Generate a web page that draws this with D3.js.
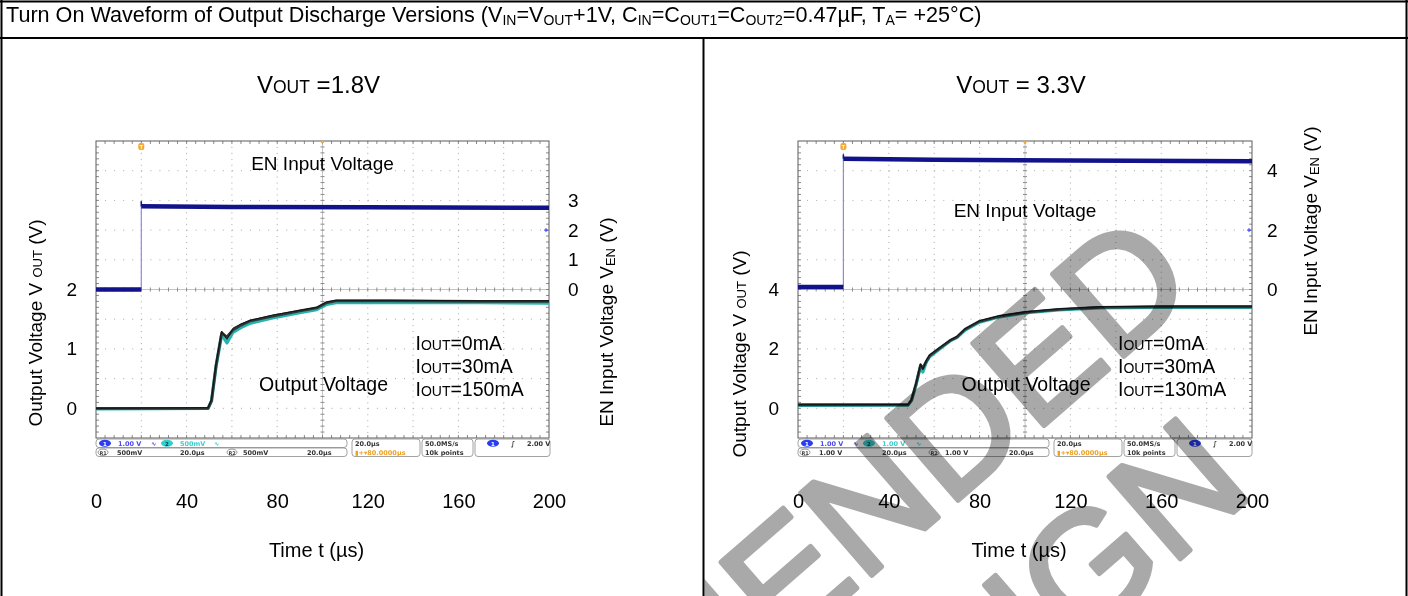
<!DOCTYPE html>
<html>
<head>
<meta charset="utf-8">
<script src="https://cdn.jsdelivr.net/npm/d3@7"></script>
<style>
  body { margin: 0; background: #fff; }
  svg { display: block; font-family: "Liberation Sans", Arial, sans-serif; }
</style>
</head>
<body>
<svg id="chart" width="1408" height="596"></svg>
<script>
// ---- data (time in µs, volts) ----
const timeTicks = [0, 40, 80, 120, 160, 200];

// VOUT = 1.8V
const leftVoutTicks = [0, 1, 2];
const leftEnTicks = [0, 1, 2, 3];
const leftOutT   = [0, 49.5, 51, 53, 55.5, 57.8, 60.5, 64, 68, 78, 90, 97.4, 101.9, 106, 130, 170, 200];
const leftOut0   = [0.00, 0.01, 0.15, 0.75, 1.30, 1.16, 1.35, 1.42, 1.48, 1.57, 1.65, 1.70, 1.79, 1.82, 1.82, 1.81, 1.81];
const leftOut30  = [-0.01, 0.00, 0.12, 0.70, 1.24, 1.10, 1.28, 1.36, 1.43, 1.52, 1.61, 1.66, 1.75, 1.78, 1.78, 1.78, 1.77];
const leftOut150 = [0.00, 0.00, 0.13, 0.72, 1.27, 1.20, 1.32, 1.40, 1.47, 1.55, 1.64, 1.69, 1.78, 1.81, 1.81, 1.80, 1.80];
const leftEnLow  = [[0, 0.0], [20, 0.0]];
const leftEnHigh = [[20, 2.80], [60, 2.78], [120, 2.77], [200, 2.75]];
const leftEnPeak = 2.97;
const leftLoads  = ["0mA", "30mA", "150mA"];
const leftScales = ["1.00 V", "500mV", "500mV", "500mV"];

// VOUT = 3.3V
const rightVoutTicks = [0, 2, 4];
const rightEnTicks = [0, 2, 4];
const rightOutT   = [0, 48.5, 50, 52, 54, 55, 56.5, 58, 63, 67, 70, 73.6, 80, 89, 100, 115, 133, 160, 200];
const rightOut0   = [0.12, 0.13, 0.30, 0.85, 1.50, 1.30, 1.62, 1.80, 2.08, 2.30, 2.42, 2.68, 2.95, 3.12, 3.25, 3.35, 3.42, 3.44, 3.44];
const rightOut30  = [0.10, 0.11, 0.26, 0.78, 1.42, 1.22, 1.55, 1.74, 2.03, 2.27, 2.38, 2.63, 2.90, 3.08, 3.21, 3.31, 3.38, 3.40, 3.40];
const rightOut130 = [0.12, 0.12, 0.28, 0.82, 1.46, 1.35, 1.58, 1.77, 2.06, 2.28, 2.40, 2.66, 2.93, 3.10, 3.23, 3.33, 3.40, 3.42, 3.42];
const rightEnLow  = [[0, 0.08], [20, 0.08]];
const rightEnHigh = [[20, 4.40], [60, 4.37], [120, 4.34], [200, 4.32]];
const rightEnPeak = 4.55;
const rightLoads  = ["0mA", "30mA", "130mA"];
const rightScales = ["1.00 V", "1.00 V", "1.00 V", "1.00 V"];

const W = 1408, H = 596;
const svg = d3.select("#chart");
svg.append("rect").attr("width", W).attr("height", H).attr("fill", "#fff");

// text with small "subscript" parts: parts = [[text, sub]]
function rich(sel, parts, subSize, subDy) {
  let shifted = 0;
  parts.forEach(([s, sub]) => {
    const t = sel.append("tspan").text(s);
    if (sub) {
      t.attr("font-size", subSize).attr("dy", subDy - shifted);
      shifted = subDy;
    } else if (shifted) {
      t.attr("dy", -shifted);
      shifted = 0;
    }
  });
  return sel;
}

// table borders
const border = svg.append("g").attr("stroke", "#000").attr("stroke-width", 2);
border.append("line").attr("x1", 0).attr("x2", W).attr("y1", 1.5).attr("y2", 1.5);
border.append("line").attr("x1", 1.5).attr("x2", 1.5).attr("y1", 0).attr("y2", H);
border.append("line").attr("x1", W - 1.5).attr("x2", W - 1.5).attr("y1", 0).attr("y2", H);
border.append("line").attr("x1", 0).attr("x2", W).attr("y1", 38).attr("y2", 38);
border.append("line").attr("x1", 703.5).attr("x2", 703.5).attr("y1", 38).attr("y2", H);

rich(svg.append("text").attr("x", 6).attr("y", 22).attr("font-size", 21.6),
  [["Turn On  Waveform of Output Discharge Versions (V", 0], ["IN", 1], ["=V", 0], ["OUT", 1],
   ["+1V, C", 0], ["IN", 1], ["=C", 0], ["OUT1", 1], ["=C", 0], ["OUT2", 1],
   ["=0.47µF, T", 0], ["A", 1], ["= +25°C)", 0]], 14, 2.5);

const panels = [
  { left: 96, right: 549, title: " =1.8V", voutDomain: [-0.5, 4.5], voutTicks: leftVoutTicks,
    enTicks: leftEnTicks, enPad: 19, t: leftOutT, outs: [leftOut30, leftOut150, leftOut0],
    enLow: leftEnLow, enHigh: leftEnHigh, enPeak: leftEnPeak, loads: leftLoads, scales: leftScales,
    enLabelY: 170, voutTitleY: 323, enTitleY: 322, voutTitleX: 42, enTitleX: 613 },
  { left: 798, right: 1252, title: " = 3.3V", voutDomain: [-1, 9], voutTicks: rightVoutTicks,
    enTicks: rightEnTicks, enPad: 15, t: rightOutT, outs: [rightOut30, rightOut130, rightOut0],
    enLow: rightEnLow, enHigh: rightEnHigh, enPeak: rightEnPeak, loads: rightLoads, scales: rightScales,
    enLabelY: 217, voutTitleY: 354, enTitleY: 231, voutTitleX: 746, enTitleX: 1317 }
];

const plotTop = 141, plotBottom = 438;

panels.forEach(p => {
  const g = svg.append("g");
  const x = d3.scaleLinear().domain([0, 200]).range([p.left, p.right]);
  const yV = d3.scaleLinear().domain(p.voutDomain).range([plotBottom, plotTop]);
  const yE = d3.scaleLinear().domain([-5, 5]).range([plotBottom, plotTop]);
  const cx = (p.left + p.right) / 2, cy = (plotTop + plotBottom) / 2;
  const dx = (p.right - p.left) / 10, dy = (plotBottom - plotTop) / 10;

  rich(g.append("text").attr("x", cx - 4).attr("y", 93).attr("font-size", 24).attr("text-anchor", "middle"),
    [["V", 0], ["OUT", 1], [p.title, 0]], 17.5, 0);

  // scope screen
  const scr = g.append("g");
  scr.append("rect").attr("x", p.left).attr("y", plotTop).attr("width", p.right - p.left)
    .attr("height", plotBottom - plotTop).attr("fill", "#fff");
  for (let i = 1; i < 10; i++) {
    if (i === 5) continue;
    scr.append("line").attr("x1", p.left + i * dx).attr("x2", p.left + i * dx)
      .attr("y1", plotTop).attr("y2", plotBottom)
      .attr("stroke", "#a8a8a8").attr("stroke-dasharray", `1 ${dy / 5 - 1}`);
    scr.append("line").attr("y1", plotTop + i * dy).attr("y2", plotTop + i * dy)
      .attr("x1", p.left).attr("x2", p.right)
      .attr("stroke", "#a8a8a8").attr("stroke-dasharray", `1 ${dx / 5 - 1}`);
  }
  scr.append("line").attr("x1", cx).attr("x2", cx).attr("y1", plotTop).attr("y2", plotBottom).attr("stroke", "#c4c4c4");
  scr.append("line").attr("y1", cy).attr("y2", cy).attr("x1", p.left).attr("x2", p.right).attr("stroke", "#c4c4c4");
  const ticks = scr.append("g").attr("stroke", "#8a8a8a");
  for (let k = 1; k < 50; k++) {
    const xx = p.left + k * dx / 5, yy = plotTop + k * dy / 5;
    ticks.append("line").attr("x1", xx).attr("x2", xx).attr("y1", cy - 2).attr("y2", cy + 2);
    ticks.append("line").attr("y1", yy).attr("y2", yy).attr("x1", cx - 2).attr("x2", cx + 2);
    ticks.append("line").attr("x1", xx).attr("x2", xx).attr("y1", plotTop).attr("y2", plotTop + 3);
    ticks.append("line").attr("x1", xx).attr("x2", xx).attr("y1", plotBottom - 3).attr("y2", plotBottom);
    ticks.append("line").attr("y1", yy).attr("y2", yy).attr("x1", p.left).attr("x2", p.left + 3);
    ticks.append("line").attr("y1", yy).attr("y2", yy).attr("x1", p.right - 3).attr("x2", p.right);
  }
  scr.append("rect").attr("x", p.left).attr("y", plotTop).attr("width", p.right - p.left)
    .attr("height", plotBottom - plotTop).attr("fill", "none").attr("stroke", "#5a5a5a");

  // EN trace
  const enLine = d3.line().x(d => x(d[0])).y(d => yE(d[1]));
  scr.append("path").attr("d", enLine([p.enLow[1], [p.enLow[1][0], p.enPeak]]))
    .attr("stroke", "#8c8ce6").attr("stroke-width", 1.2).attr("fill", "none");
  [p.enLow, p.enHigh].forEach(seg => {
    scr.append("path").attr("d", enLine(seg)).attr("fill", "none")
      .attr("stroke", "#12128a").attr("stroke-width", 4.5);
  });
  scr.append("path").attr("d", enLine([[p.enHigh[0][0], p.enPeak], p.enHigh[0]]))
    .attr("stroke", "#12128a").attr("stroke-width", 1.5).attr("fill", "none");

  // VOUT traces
  const vLine = d3.line().x((d, i) => x(p.t[i])).y(d => yV(d));
  const styles = [["#27b4ae", 3.2], ["#2e3838", 2.8], ["#111", 1]];
  p.outs.forEach((vals, k) => {
    scr.append("path").attr("d", vLine(vals)).attr("fill", "none")
      .attr("stroke", styles[k][0]).attr("stroke-width", styles[k][1]).attr("stroke-linejoin", "round");
  });

  // scope markers
  const tx = x(20);
  scr.append("rect").attr("x", tx - 3).attr("y", plotTop + 2).attr("width", 6).attr("height", 7)
    .attr("rx", 2).attr("fill", "#f0a830");
  scr.append("text").attr("x", tx).attr("y", plotTop + 8).attr("font-size", 6).attr("fill", "#fff")
    .attr("text-anchor", "middle").attr("font-weight", "bold").text("T");
  scr.append("path").attr("d", `M${x(100) - 3},${plotTop} L${x(100) + 3},${plotTop} L${x(100)},${plotTop + 3}Z`)
    .attr("fill", "#f0a830");
  scr.append("path").attr("d", `M${p.right - 5},${yE(2)} h4 M${p.right - 3},${yE(2) - 2} v4`)
    .attr("stroke", "#2a3cf0").attr("stroke-width", 1);

  // status bar
  const sb = g.append("g").attr("font-family", "DejaVu Sans, sans-serif").attr("font-size", 6.5)
    .attr("font-weight", "bold");
  const L = p.left;
  const box = (x0, y0, w, h) => sb.append("rect").attr("x", x0).attr("y", y0).attr("width", w)
    .attr("height", h).attr("rx", 3).attr("fill", "#fff").attr("stroke", "#8a8a8a").attr("stroke-width", 0.8);
  box(L, 439, 251, 8.5); box(L, 448, 251, 8.5);
  box(L + 256, 439, 68, 17.5); box(L + 326, 439, 51, 17.5); box(L + 379, 439, 75, 17.5);
  const badge = (x0, y0, fill, label) => {
    sb.append("ellipse").attr("cx", x0).attr("cy", y0).attr("rx", 6).attr("ry", 3.5).attr("fill", fill);
    sb.append("text").attr("x", x0).attr("y", y0 + 2.3).attr("text-anchor", "middle")
      .attr("fill", fill === "#2a3cf0" ? "#fff" : "#044").attr("font-size", 5.5).text(label);
  };
  const stxt = (x0, y0, s, c) => sb.append("text").attr("x", x0).attr("y", y0).attr("fill", c || "#333").text(s);
  badge(L + 9, 443.3, "#2a3cf0", "1");
  stxt(L + 22, 445.6, p.scales[0], "#4a4af0");
  stxt(L + 55, 445.6, "∿", "#4a4af0");
  badge(L + 71, 443.3, "#30d0d0", "2");
  stxt(L + 84, 445.6, p.scales[1], "#38d0d0");
  stxt(L + 118, 445.6, "∿", "#38d0d0");
  sb.append("ellipse").attr("cx", L + 7).attr("cy", 452.3).attr("rx", 5).attr("ry", 3.2)
    .attr("fill", "none").attr("stroke", "#555").attr("stroke-width", 0.6);
  stxt(L + 3.5, 454.5, "R1", "#444").attr("font-size", 5);
  stxt(L + 21, 454.6, p.scales[2]);
  stxt(L + 84, 454.6, "20.0µs");
  sb.append("ellipse").attr("cx", L + 136).attr("cy", 452.3).attr("rx", 5).attr("ry", 3.2)
    .attr("fill", "none").attr("stroke", "#555").attr("stroke-width", 0.6);
  stxt(L + 132.5, 454.5, "R2", "#444").attr("font-size", 5);
  stxt(L + 147, 454.6, p.scales[3]);
  stxt(L + 211, 454.6, "20.0µs");
  stxt(L + 259, 445.6, "20.0µs");
  stxt(L + 259, 454.6, "▮+▾80.0000µs", "#f0a020");
  stxt(L + 329, 445.6, "50.0MS/s");
  stxt(L + 329, 454.6, "10k points");
  badge(L + 397, 443.3, "#2a3cf0", "1");
  stxt(L + 415, 445.6, "∫");
  stxt(L + 431, 445.6, "2.00 V");

  // axes
  const ax = g.append("g").attr("transform", `translate(${p.left},0)`)
    .call(d3.axisLeft(yV).tickValues(p.voutTicks).tickFormat(d3.format("d")).tickSize(0).tickPadding(19));
  const ex = g.append("g").attr("transform", `translate(${p.right},0)`)
    .call(d3.axisRight(yE).tickValues(p.enTicks).tickFormat(d3.format("d")).tickSize(0).tickPadding(p.enPad));
  const tx2 = g.append("g").attr("transform", `translate(0,508)`)
    .call(d3.axisBottom(x).tickValues(timeTicks).tickSize(0));
  [ax, ex, tx2].forEach(a => {
    a.select(".domain").remove();
    a.selectAll("text").attr("font-size", 19).attr("font-family", "Liberation Sans, Arial, sans-serif")
      .attr("fill", "#000");
  });
  tx2.selectAll("text").attr("y", 0).attr("dy", 0).attr("font-size", 20);

  g.append("text").attr("x", cx - 6).attr("y", 557).attr("font-size", 20).attr("text-anchor", "middle")
    .text("Time t (µs)");

  rich(g.append("text").attr("transform", `translate(${p.voutTitleX},${p.voutTitleY}) rotate(-90)`)
      .attr("font-size", 19).attr("text-anchor", "middle"),
    [["Output Voltage V ", 0], ["OUT", 1], [" (V)", 0]], 13, 0);
  rich(g.append("text").attr("transform", `translate(${p.enTitleX},${p.enTitleY}) rotate(-90)`)
      .attr("font-size", 19).attr("text-anchor", "middle"),
    [["EN Input Voltage V", 0], ["EN", 1], [" (V)", 0]], 13, 2);

  // labels on the screen
  g.append("text").attr("x", cx).attr("y", p.enLabelY).attr("font-size", 19).attr("text-anchor", "middle")
    .text("EN Input Voltage");
  g.append("text").attr("x", cx + 1).attr("y", 391).attr("font-size", 19.5).attr("text-anchor", "middle")
    .text("Output Voltage");
  p.loads.forEach((s, i) => {
    rich(g.append("text").attr("x", cx + 93).attr("y", 350 + i * 23).attr("font-size", 19.5),
      [["I", 0], ["OUT", 1], ["=" + s, 0]], 14, 0);
  });
});

// "not recommended" watermark, clipped to the right table cell
svg.append("clipPath").attr("id", "cellR").append("rect")
  .attr("x", 704.5).attr("y", 39).attr("width", W - 706).attr("height", H - 39);
const wm = svg.append("g").attr("clip-path", "url(#cellR)")
  .style("mix-blend-mode", "multiply")
  .append("g").attr("transform", "translate(1200,290) rotate(-41)")
  .attr("fill", "#a9a9a9").attr("stroke", "#a9a9a9").attr("stroke-width", 5).attr("stroke-linejoin", "round")
  .attr("font-size", 158).attr("text-anchor", "end");
wm.append("text").attr("x", 0).attr("y", 0).text("NOT RECOMMENDED");
wm.append("text").attr("x", -90).attr("y", 190).text("FOR NEW DESIGN");
</script>
</body>
</html>
